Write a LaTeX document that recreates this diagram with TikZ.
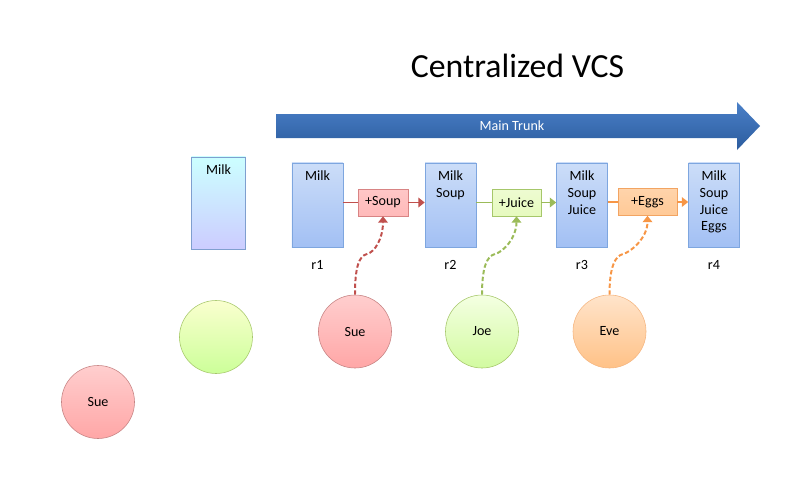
\documentclass[tikz,border=0pt]{standalone}
\usepackage{fontspec}
\setmainfont{Carlito}
\usepackage{xcolor}
\usepackage{tikz}
\usetikzlibrary{positioning,arrows.meta}

\definecolor{revtop}{HTML}{CCDDF8}
\definecolor{revbot}{HTML}{A2C0F4}
\definecolor{revline}{HTML}{7EA6DF}
\definecolor{lonetop}{HTML}{CCFFFF}
\definecolor{lonebot}{HTML}{CCCCFF}
\definecolor{loneline}{HTML}{7F9FCF}
\definecolor{soupfill}{HTML}{FFB9B9}
\definecolor{soupedge}{HTML}{D88484}
\definecolor{soupline}{HTML}{C0504D}
\definecolor{juicefill}{HTML}{E6FABE}
\definecolor{juiceedge}{HTML}{A6C76A}
\definecolor{juiceline}{HTML}{9BBB59}
\definecolor{eggsfill}{HTML}{FFC996}
\definecolor{eggsedge}{HTML}{F2A462}
\definecolor{eggsline}{HTML}{F79646}
\definecolor{trunktop}{HTML}{4A80C8}
\definecolor{trunkbot}{HTML}{2C5C9E}
\definecolor{greentop}{HTML}{FAFFCF}
\definecolor{greenbot}{HTML}{CCFF99}
\definecolor{joetop}{HTML}{F4FFE2}
\definecolor{joebot}{HTML}{D2FBA0}

\begin{document}
\begin{tikzpicture}[x=0.025cm, y=-0.025cm,
  rev/.style={draw=revline, top color=revtop, bottom color=revbot,
              minimum width=12.75mm, minimum height=21mm, inner sep=0pt},
  lone/.style={draw=loneline, top color=lonetop, bottom color=lonebot,
               minimum width=13.5mm, minimum height=23mm, inner sep=0pt},
  revtxt/.style={anchor=north, align=center, inner sep=0pt, yshift=-1.9mm},
  caplbl/.style={anchor=center, inner sep=0pt, yshift=-4.3mm},
  chg/.style={minimum height=6.75mm, inner sep=1pt, font=\normalsize},
  dev/.style={circle, minimum size=18.25mm, inner sep=0pt},
  arr/.style={-{Triangle[length=1.6mm, width=2.4mm]}},
  link/.style={line width=1.4pt},
  wavy/.style={line width=1.4pt, dash pattern=on 1.1mm off 0.6mm, arr},
]
\useasboundingbox (0,0) rectangle (800,500);

% --- title and trunk ---
\node[font=\fontsize{24}{28}\selectfont] (title) at (517.5,66) {Centralized VCS};
\shade[top color=trunktop, bottom color=trunkbot]
  (276,114) -- (737,114) -- (737,102) -- (760,126) -- (737,150) -- (737,138) -- (276,138) -- cycle;
\node[text=white] (trunk) at (512,126) {Main Trunk};

% --- left: lonely copy ---
\node[lone, label={[revtxt]north:Milk}] (milk) at (218.5,203) {};
\node[dev, draw=juiceedge, top color=greentop, bottom color=greenbot] (blank) at (216,337) {};
\node[dev, draw=soupedge!80!gray, top color=soupfill!70, bottom color=soupfill!90!red] (sue0) at (98,402) {Sue};

% --- revisions ---
\node[rev, label={[revtxt]north:Milk}, label={[caplbl]south:r1}] (r1) at (317.5,205) {};
\node[rev, label={[revtxt]north:Milk\\Soup}, label={[caplbl]south:r2}] (r2) at (450.5,205) {};
\node[rev, label={[revtxt]north:Milk\\Soup\\Juice}, label={[caplbl]south:r3}] (r3) at (582,205) {};
\node[rev, label={[revtxt]north:Milk\\Soup\\Juice\\Eggs}, label={[caplbl]south:r4}] (r4) at (714,205) {};

% --- changes ---
\node[chg, draw=soupedge, top color=soupfill!80, bottom color=soupfill, minimum width=12.5mm] (soup) at (383,202.5) {+Soup};
\node[chg, draw=juiceedge, top color=juicefill!70, bottom color=juicefill, minimum width=12.25mm] (juice) at (516.5,202.5) {+Juice};
\node[chg, draw=eggsedge, top color=eggsfill!80, bottom color=eggsfill, minimum width=14.75mm] (eggs) at (647.5,202) {+Eggs};

\draw[link, soupline] (r1.east |- soup.west) -- (soup.west);
\draw[link, soupline, arr] (soup.east) -- (r2.west |- soup.east);
\draw[link, juiceline] (r2.east |- juice.west) -- (juice.west);
\draw[link, juiceline, arr] (juice.east) -- (r3.west |- juice.east);
\draw[link, eggsline] (r3.east |- eggs.west) -- (eggs.west);
\draw[link, eggsline, arr] (eggs.east) -- (r4.west |- eggs.east);

% --- developers ---
\node[dev, draw=soupedge!80!gray, top color=soupfill!70, bottom color=soupfill!90!red] (sue) at (355,331.5) {Sue};
\node[dev, draw=juiceedge, top color=joetop, bottom color=joebot] (joe) at (482,331.5) {Joe};
\node[dev, draw=eggsedge!80, top color=eggsfill!50, bottom color=eggsfill!90!orange] (eve) at (609.5,331.5) {Eve};

\coordinate (m1) at (367,254);
\coordinate (m2) at (495,254);
\coordinate (m3) at (623,254);
\draw[wavy, soupline] (sue.north) .. controls +(0,-28) and +(-8,2) .. (m1)
  .. controls +(8,-2) and +(0,22) .. (soup.south);
\draw[wavy, juiceline] (joe.north) .. controls +(0,-28) and +(-8,2) .. (m2)
  .. controls +(8,-2) and +(0,22) .. (juice.south);
\draw[wavy, eggsline] (eve.north) .. controls +(0,-28) and +(-8,2) .. (m3)
  .. controls +(8,-2) and +(0,22) .. (eggs.south);
\end{tikzpicture}
\end{document}
